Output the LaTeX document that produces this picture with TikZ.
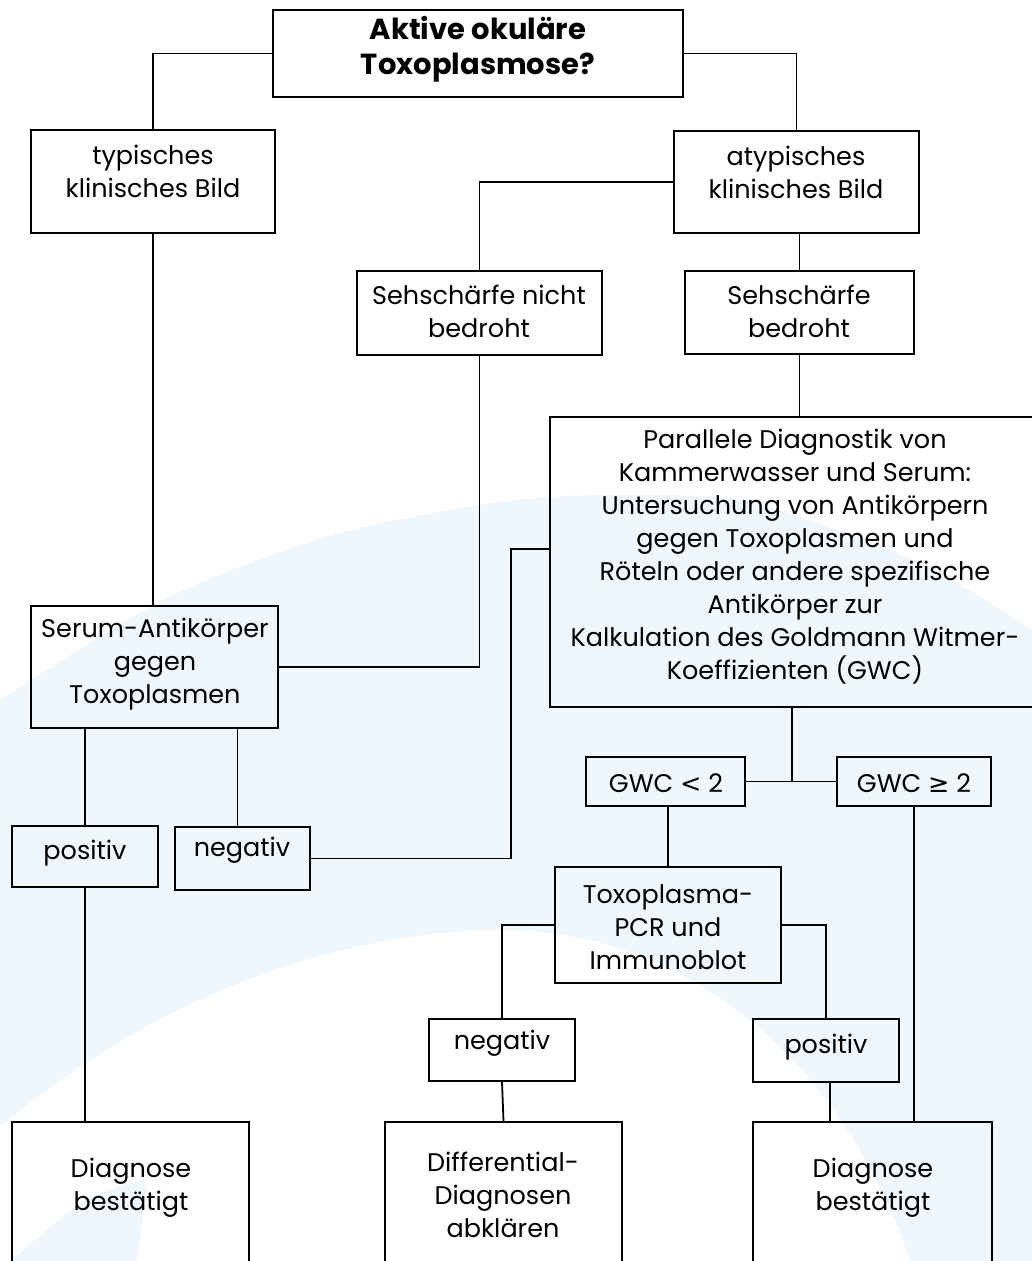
\documentclass[tikz,border=0pt]{standalone}
\usepackage{fontspec}
\setmainfont{Poppins}
\newfontfamily\symfont{DejaVu Sans}
\definecolor{bgblue}{RGB}{240,247,252}
\begin{document}
\begin{tikzpicture}[x=1pt,y=-1pt,
  box/.style={draw, line width=1.8pt, rectangle, inner sep=0pt},
  txt/.style={align=center, inner sep=0pt, font=\fontsize{25.5}{33}\selectfont},
  ttl/.style={align=center, inner sep=0pt, font=\bfseries\fontsize{29}{35}\selectfont},
  conn/.style={draw, line width=1.8pt}]
\clip (0,0) rectangle (1032,1261);
\fill[white] (0,0) rectangle (1032,1261);
% background band
\fill[bgblue] plot[smooth] coordinates {(0,700) (167,598) (333,535) (500,502) (620,495) (753,503) (920,563) (1032,630)}
  -- (1032,1261) -- (910,1261) .. controls (850,1080) and (700,925) .. (490,930)
  .. controls (330,934) and (150,1000) .. (0,1127) -- cycle;
\fill[bgblue] plot[smooth] coordinates {(10,1261) (50,1227) (90,1197) (143,1180)} -- plot[smooth] coordinates {(147,1190) (142,1225) (137,1261)} -- cycle;

% boxes
\node[box, minimum width=410, minimum height=87] (top) at (478,53.5) {};
\node[box, minimum width=244, minimum height=103] (typ) at (153,181.5) {};
\node[box, minimum width=245, minimum height=102] (atyp) at (796.5,182) {};
\node[box, minimum width=245, minimum height=84] (nicht) at (479.5,313) {};
\node[box, minimum width=229, minimum height=83] (bedr) at (799.5,312.5) {};
\node[box, minimum width=510, minimum height=290] (par) at (805,562) {};
\node[box, minimum width=247, minimum height=122] (serum) at (154.5,667) {};
\node[box, minimum width=146, minimum height=61] (posL) at (85,856.5) {};
\node[box, minimum width=135, minimum height=63] (negL) at (242.5,858.5) {};
\node[box, minimum width=159, minimum height=49] (gwc1) at (665.5,781.5) {};
\node[box, minimum width=154, minimum height=49] (gwc2) at (914,781.5) {};
\node[box, minimum width=226, minimum height=116] (tox) at (668,925) {};
\node[box, minimum width=146, minimum height=62] (negR) at (502,1050) {};
\node[box, minimum width=146, minimum height=63] (posR) at (826,1050.5) {};
\node[box, minimum width=237, minimum height=200] (diagL) at (130.5,1222) {};
\node[box, minimum width=237, minimum height=200] (diff) at (503.5,1222) {};
\node[box, minimum width=239, minimum height=200] (diagR) at (872.5,1222) {};

% texts
\node[ttl] (top-t) at (478,49) {Aktive okuläre\\Toxoplasmose?};
\node[txt] (typ-t) at (153,171) {typisches\\klinisches Bild};
\node[txt] (atyp-t) at (796,172) {atypisches\\klinisches Bild};
\node[txt] (nicht-t) at (479,311) {Sehschärfe nicht\\bedroht};
\node[txt] (bedr-t) at (799,311) {Sehschärfe\\bedroht};
\node[txt] (par-t) at (795,557) {Parallele Diagnostik von\\Kammerwasser und Serum:\\Untersuchung von Antikörpern\\gegen Toxoplasmen und\\Röteln oder andere spezifische\\Antikörper zur\\Kalkulation des Goldmann Witmer-\\Koeffizienten (GWC)};
\node[txt] (serum-t) at (155,664) {Serum-Antikörper\\gegen\\Toxoplasmen};
\node[txt] (posL-t) at (85,853) {positiv};
\node[txt] (negL-t) at (242,850) {negativ};
\node[txt] (gwc1-t) at (666,783) {GWC {\symfont <} 2};
\node[txt] (gwc2-t) at (914,783) {GWC {\symfont ≥} 2};
\node[txt] (tox-t) at (668,927) {Toxoplasma-\\PCR und\\Immunoblot};
\node[txt] (negR-t) at (502,1043) {negativ};
\node[txt] (posR-t) at (826,1047) {positiv};
\node[txt] (diagL-t) at (131,1188) {Diagnose\\bestätigt};
\node[txt] (diff-t) at (503,1195) {Differential-\\Diagnosen\\abklären};
\node[txt] (diagR-t) at (873,1188) {Diagnose\\bestätigt};

% connectors
\coordinate (j) at (792,781.5);
\draw[conn] (top.west) -| (typ.north);
\draw[conn] (top.east) -| (atyp.north);
\draw[conn] (atyp.west) -| (nicht.north);
\draw[conn] (bedr.north |- atyp.south) -- (bedr.north);
\draw[conn] (typ.south) -- (typ.south |- serum.north);
\draw[conn] (nicht.south) |- (serum.east);
\draw[conn] (bedr.south) -- (bedr.south |- par.north);
\draw[conn] ([yshift=13pt]par.west) -- ++(-38,0) |- (negL.east);
\draw[conn] (posL.north |- serum.south) -- (posL.north);
\draw[conn] ([xshift=-5pt]negL.north |- serum.south) -- ([xshift=-5pt]negL.north);
\draw[conn] (posL.south) -- (posL.south |- diagL.north);
\draw[conn] (gwc1.east) -- (gwc2.west);
\draw[conn] (j |- par.south) -- (j);
\draw[conn] (tox.north |- gwc1.south) -- (tox.north);
\draw[conn] (gwc2.south) -- (gwc2.south |- diagR.north);
\draw[conn] (tox.west) -| (negR.north);
\draw[conn] (tox.east) -| (posR.north);
\draw[conn] (negR.south) -- (diff.north);
\draw[conn] ([xshift=4pt]posR.south) -- ([xshift=4pt]posR.south |- diagR.north);
\end{tikzpicture}
\end{document}
